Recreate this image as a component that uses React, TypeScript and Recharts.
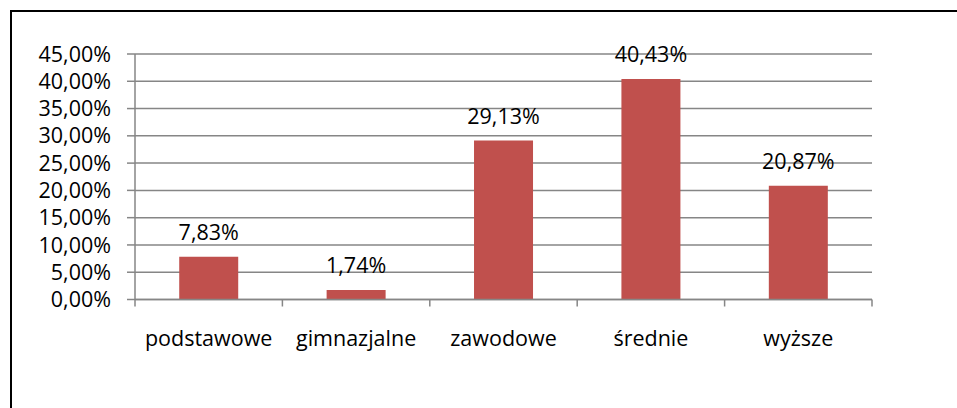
import { BarChart, Bar, XAxis, YAxis, CartesianGrid, LabelList } from "recharts";

const categories = ["podstawowe", "gimnazjalne", "zawodowe", "średnie", "wyższe"];
const shares = [7.83, 1.74, 29.13, 40.43, 20.87];
const yTicks = [0, 5, 10, 15, 20, 25, 30, 35, 40, 45];

const data = categories.map((name, i) => ({ name, value: shares[i] }));

const FONT = "'Open Sans', sans-serif";
const FS = 21.5;
const GRID = "#868686";
const fmt = (v: number) => v.toFixed(2).replace(".", ",") + "%";

// category tick: label plus a boundary tick mark on the left (and right for the last one)
function CatTick(props: any) {
  const { x, y, payload, index } = props;
  const half = payload?.offset ?? 0;
  const axisY = y;
  return (
    <g>
      <line x1={x - half} x2={x - half} y1={axisY} y2={axisY + 7} stroke={GRID} strokeWidth={1.5} />
      {index === categories.length - 1 && (
        <line x1={x + half} x2={x + half} y1={axisY} y2={axisY + 7} stroke={GRID} strokeWidth={1.5} />
      )}
      <text x={x} y={axisY + 46} textAnchor="middle" fontFamily={FONT} fontSize={FS} fill="#000">
        {payload.value}
      </text>
    </g>
  );
}

export default function App() {
  return (
    <div
      style={{
        position: "absolute",
        left: 0,
        top: 0,
        width: 957,
        height: 408,
        overflow: "hidden",
        background: "#fff",
      }}
    >
      <div
        style={{
          position: "absolute",
          left: 10,
          top: 10,
          width: 1000,
          height: 500,
          border: "2px solid #000",
        }}
      />
      <div style={{ position: "absolute", left: 0, top: 0 }}>
        <BarChart
          width={957}
          height={408}
          data={data}
          margin={{ top: 54, right: 85, left: 0, bottom: 0 }}
          barCategoryGap="30%"
        >
          <CartesianGrid vertical={false} stroke={GRID} strokeWidth={1.5} />
          <YAxis
            width={135}
            domain={[0, 45]}
            ticks={yTicks}
            interval={0}
            tickFormatter={fmt}
            tick={{ fontFamily: FONT, fontSize: FS, fill: "#000" }}
            axisLine={{ stroke: GRID, strokeWidth: 1.5 }}
            tickLine={{ stroke: GRID, strokeWidth: 1.5 }}
            tickSize={8}
            tickMargin={16}
          />
          <XAxis
            dataKey="name"
            interval={0}
            tick={<CatTick />}
            axisLine={{ stroke: GRID, strokeWidth: 1.5 }}
            tickLine={false}
            tickSize={0}
            tickMargin={0}
            height={108.5}
          />
          <Bar dataKey="value" fill="#C0504D" isAnimationActive={false}>
            <LabelList
              dataKey="value"
              position="top"
              offset={17}
              formatter={(v: any) => fmt(Number(v))}
              style={{ fontFamily: FONT, fontSize: FS, fill: "#000" }}
            />
          </Bar>
        </BarChart>
      </div>
    </div>
  );
}
